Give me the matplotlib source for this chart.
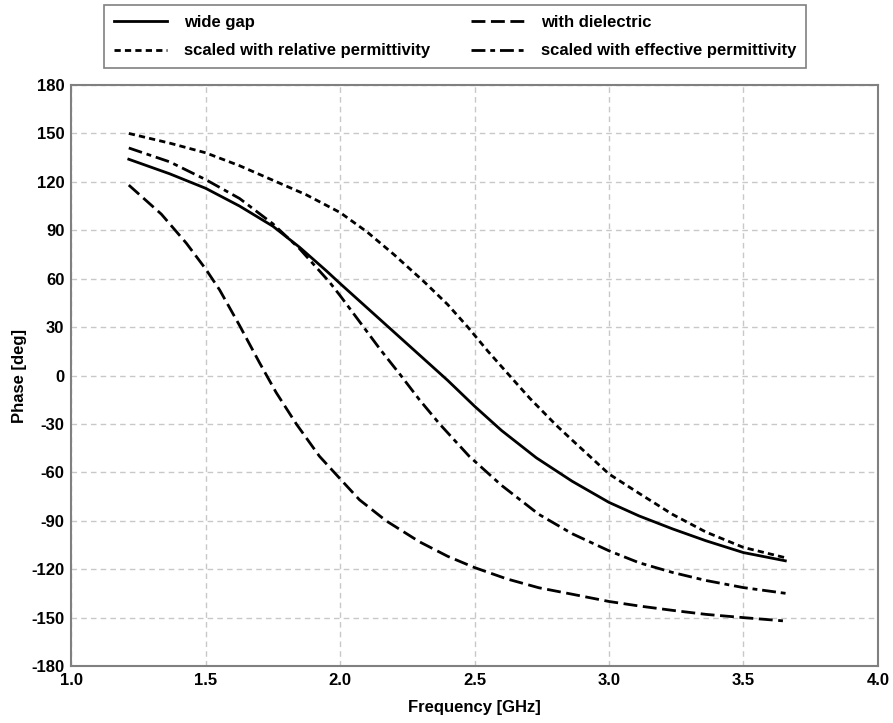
import matplotlib
matplotlib.use("Agg")
import matplotlib.pyplot as plt

plt.rcParams["font.family"] = ["Liberation Sans", "DejaVu Sans"]
plt.rcParams["font.weight"] = "bold"
plt.rcParams["font.size"] = 12
plt.rcParams["axes.unicode_minus"] = False
plt.rcParams["lines.scale_dashes"] = False

# Phase vs frequency
freq_wide = [1.214, 1.366, 1.5, 1.626, 1.75, 1.849, 1.948, 2.0, 2.1, 2.2,
             2.3, 2.4, 2.5, 2.6, 2.73, 2.863, 3.0, 3.112, 3.236, 3.361,
             3.5, 3.656]
wide_gap = [134, 125, 116, 105, 92.5, 79.5, 65, 57, 42, 27,
            12, -3, -19, -34, -51, -65.5, -78.6, -87, -95, -102.4,
            -109.7, -114.8]

freq_rel = [1.214, 1.366, 1.5, 1.626, 1.75, 1.874, 2.0, 2.1, 2.2,
            2.313, 2.4, 2.475, 2.55, 2.63, 2.705, 2.805, 2.863, 3.0, 3.112,
            3.236, 3.361, 3.5, 3.659]
relative = [150, 144, 138, 130, 121, 112, 101, 89, 75,
            58, 44, 30, 15, 0, -14, -31, -40, -61, -73,
            -86, -97, -106.5, -113]

freq_eff = [1.214, 1.366, 1.5, 1.626, 1.75, 1.849, 1.96, 2.0, 2.083, 2.15,
            2.226, 2.295, 2.37, 2.48, 2.6, 2.739, 2.863, 3.0, 3.112, 3.236,
            3.361, 3.5, 3.659]
effective = [141, 132.4, 121.4, 109.7, 94, 78.6, 58, 49.5, 31, 16,
             0, -15, -30, -50, -68, -86, -98, -108.6, -116, -122,
             -127, -131.4, -135]

freq_diel = [1.214, 1.335, 1.428, 1.5, 1.552, 1.626, 1.70, 1.762, 1.837, 1.923,
             2.0, 2.072, 2.171, 2.295, 2.4, 2.5, 2.62, 2.739, 2.863, 3.0,
             3.112, 3.236, 3.361, 3.5, 3.647]
dielectric = [118, 100, 82, 66, 53, 31, 8, -10.5, -30, -50,
              -64, -77, -90, -103, -112, -119, -126, -131.5, -135.5, -140,
              -142.8, -145.5, -148, -150, -152]

x_ticks = [1.0, 1.5, 2.0, 2.5, 3.0, 3.5, 4.0]
y_ticks = list(range(-180, 181, 30))

fig = plt.figure(figsize=(8.93, 7.23), dpi=100)
ax = fig.add_axes([0.0798, 0.0788, 0.9032, 0.8036])

lw = 2.0
l1, = ax.plot(freq_wide, wide_gap, color="black", lw=lw, label="wide gap")
l2, = ax.plot(freq_diel, dielectric, color="black", lw=lw,
              dashes=(10, 4), label="with dielectric")
l3, = ax.plot(freq_rel, relative, color="black", lw=lw,
              dashes=(4.5, 3), label="scaled with relative permittivity")
l4, = ax.plot(freq_eff, effective, color="black", lw=lw,
              dashes=(10, 3.5, 3.5, 3.5), label="scaled with effective permittivity")

ax.set_xlim(1.0, 4.0)
ax.set_ylim(-180, 180)
ax.set_xticks(x_ticks)
ax.set_yticks(y_ticks)
ax.set_xticklabels([f"{v:.1f}" for v in x_ticks])
ax.tick_params(length=0, labelsize=12)
ax.tick_params(axis="y", pad=5)
ax.tick_params(axis="x", pad=5)

ax.grid(True, color="#c8c8c8", linestyle=(0, (4, 3)), linewidth=1.0)
for s in ax.spines.values():
    s.set_color("#808080")
    s.set_linewidth(1.5)

ax.set_xlabel("Frequency [GHz]", fontsize=12, fontweight="bold", labelpad=9)
ax.set_ylabel("Phase [deg]", fontsize=12, fontweight="bold", labelpad=3)

# legend fills column-wise, so order handles to get the reference rows
leg = fig.legend(handles=[l1, l3, l2, l4], loc="upper left",
                 bbox_to_anchor=(104 / 893, 1 - 5 / 723), ncol=2,
                 fontsize=12, handlelength=3.2, handletextpad=1.0,
                 columnspacing=2.45, labelspacing=0.8, borderpad=0.6,
                 borderaxespad=0, fancybox=False, framealpha=1)
leg.get_frame().set_edgecolor("#808080")
leg.get_frame().set_linewidth(1.2)

fig.savefig("out.png", dpi=100)
